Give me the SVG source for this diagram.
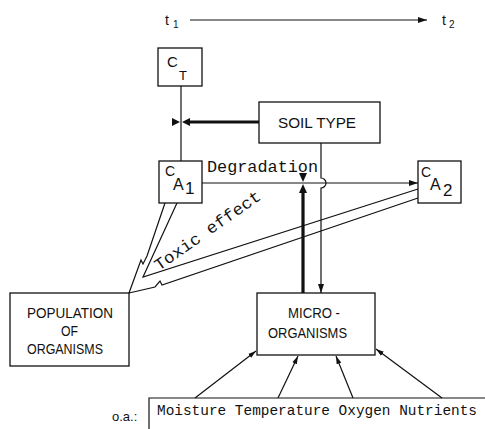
<svg xmlns="http://www.w3.org/2000/svg" width="485" height="429" viewBox="0 0 485 429">
<style>
.box{fill:#fff;stroke:#111;stroke-width:1.3}
.ln{fill:none;stroke:#111;stroke-width:1.2}
.thick{fill:none;stroke:#111;stroke-width:3.2}
.sans{font-family:"Liberation Sans",Arial,sans-serif;fill:#111}
.mono{font-family:"Liberation Mono","Courier New",monospace;fill:#111}
.tri{fill:#111;stroke:none}
</style>
<defs>
<marker id="ah" markerWidth="10" markerHeight="8" refX="9" refY="4" orient="auto" markerUnits="userSpaceOnUse">
<path d="M0,1 L9,4 L0,7 Z" fill="#111"/>
</marker>
<marker id="ahs" markerWidth="9" markerHeight="7" refX="8" refY="3.5" orient="auto" markerUnits="userSpaceOnUse">
<path d="M0,1 L8,3.5 L0,6 Z" fill="#111"/>
</marker>
</defs>

<g id="time">
<text class="sans" x="165" y="25" font-size="14">t</text>
<text class="sans" x="173" y="28" font-size="10">1</text>
<line class="ln" x1="190" y1="20" x2="427" y2="20" marker-end="url(#ah)"/>
<text class="sans" x="442" y="25" font-size="14">t</text>
<text class="sans" x="449" y="28" font-size="10">2</text>
</g>

<g id="connectors">
<line class="ln" x1="181" y1="86" x2="181" y2="161"/>
<line class="thick" x1="259" y1="122" x2="190" y2="122"/>
<path class="tri" d="M172,118 L180,122 L172,126 Z"/>
<path class="tri" d="M190,118 L182,122 L190,126 Z"/>
<line class="ln" x1="202" y1="183" x2="418" y2="183" marker-end="url(#ah)"/>
<line class="thick" x1="303" y1="293" x2="303" y2="191"/>
<path class="tri" d="M299,173 L303,182 L307,173 Z"/>
<path class="tri" d="M299,193 L303,184 L307,193 Z"/>
<path class="ln" d="M321,143 L321,178 A5,5 0 0 1 321,188 L321,293" marker-end="url(#ah)"/>
<path class="ln" d="M165,203 L147,256 L143,264 L141,260 L129,293 L155,287 L160,281 L162,285 L418,198"/>
<path class="ln" d="M177,203 L143,277 L418,189"/>
<line class="ln" x1="195" y1="398" x2="256" y2="351" marker-end="url(#ahs)"/>
<line class="ln" x1="278" y1="398" x2="298" y2="356" marker-end="url(#ahs)"/>
<line class="ln" x1="353" y1="398" x2="336" y2="356" marker-end="url(#ahs)"/>
<line class="ln" x1="442" y1="398" x2="376" y2="349" marker-end="url(#ahs)"/>
</g>

<text class="mono" x="207" y="172" font-size="16.5" textLength="111" lengthAdjust="spacingAndGlyphs">Degradation</text>
<text class="mono" font-size="16.5" transform="translate(159,271) rotate(-35)" textLength="126" lengthAdjust="spacingAndGlyphs">Toxic effect</text>

<g id="CT">
<rect class="box" x="158" y="48" width="44" height="38"/>
<text class="sans" x="167" y="67" font-size="15">C</text>
<text class="sans" x="179" y="80" font-size="13">T</text>
</g>

<g id="CA1">
<rect class="box" x="159" y="161" width="43" height="42"/>
<text class="sans" x="165" y="176" font-size="14">C</text>
<text class="sans" x="173" y="190" font-size="16">A</text>
<text class="sans" x="185" y="194" font-size="17">1</text>
</g>

<g id="CA2">
<rect class="box" x="418" y="161" width="43" height="42"/>
<text class="sans" x="421" y="177" font-size="14">C</text>
<text class="sans" x="430" y="190" font-size="16">A</text>
<text class="sans" x="443" y="196" font-size="17">2</text>
</g>

<g id="soil">
<rect class="box" x="259" y="102" width="121" height="41"/>
<text class="sans" x="278" y="128" font-size="14.5" textLength="78" lengthAdjust="spacingAndGlyphs">SOIL TYPE</text>
</g>

<g id="population">
<rect class="box" x="10" y="293" width="119" height="73"/>
<text class="sans" x="27" y="318" font-size="15.5" textLength="86" lengthAdjust="spacingAndGlyphs">POPULATION</text>
<text class="sans" x="61" y="336" font-size="15.5" textLength="17" lengthAdjust="spacingAndGlyphs">OF</text>
<text class="sans" x="27" y="354" font-size="15.5" textLength="76" lengthAdjust="spacingAndGlyphs">ORGANISMS</text>
</g>

<g id="micro">
<rect class="box" x="257" y="293" width="118" height="62"/>
<text class="sans" x="288" y="318" font-size="14.5" textLength="52" lengthAdjust="spacingAndGlyphs">MICRO -</text>
<text class="sans" x="268" y="338" font-size="14.5" textLength="79" lengthAdjust="spacingAndGlyphs">ORGANISMS</text>
</g>

<g id="factors">
<path class="ln" d="M149,429 L149,398 L485,398"/>
<text class="sans" x="112" y="421" font-size="13" fill="#333">o.a.:</text>
<text class="mono" x="157" y="415" font-size="14.4" textLength="320" lengthAdjust="spacingAndGlyphs">Moisture Temperature Oxygen Nutrients</text>
</g>
</svg>
